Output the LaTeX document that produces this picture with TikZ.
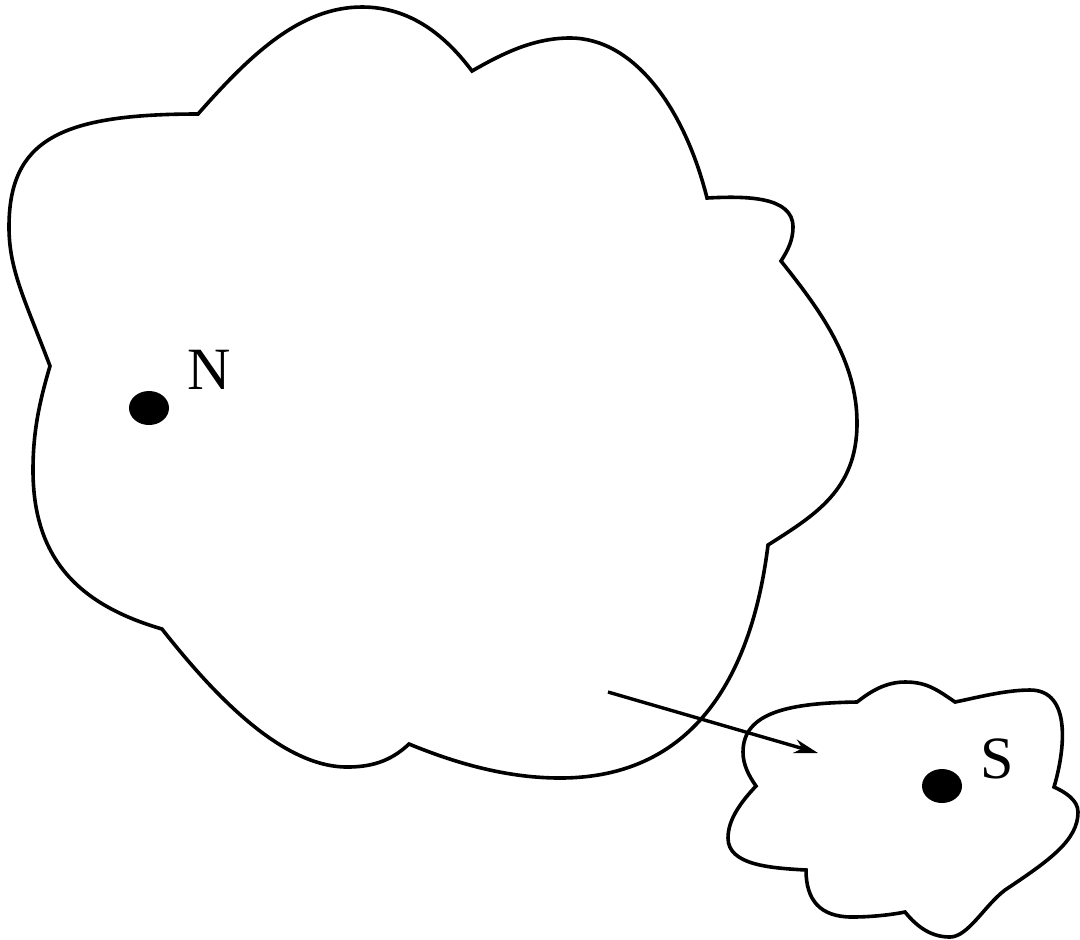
\documentclass[tikz,border=0pt]{standalone}
\usepackage{fontspec}
\setmainfont{Liberation Serif}
\usetikzlibrary{arrows.meta,shapes.geometric}

\begin{document}
\begin{tikzpicture}[
    x=0.5pt, y=-0.5pt,
    blob/.style={
      draw=black,
      line width=1.8pt,
      line join=miter
    },
    dot/.style={
      ellipse,
      fill=black,
      minimum width=20pt,
      minimum height=17pt,
      inner sep=0pt
    },
    tag/.style={
      font=\fontsize{30}{32}\selectfont,
      inner sep=0pt
    },
    arrow/.style={
      -{Stealth[length=12pt,width=7pt]},
      line width=1.7pt
    }
  ]

  \useasboundingbox (0,0) rectangle (1080,939);

  % large region
  \draw[blob] (198,114) .. controls (250,55) and (300,7) .. (362,7)
    .. controls (410,7) and (445,35) .. (472,71)
    .. controls (505,52) and (535,38) .. (570,38)
    .. controls (635,38) and (685,110) .. (707,198)
    .. controls (745,196) and (793,196) .. (793,227)
    .. controls (793,240) and (788,250) .. (781,261)
    .. controls (820,310) and (857,360) .. (857,423)
    .. controls (857,490) and (815,515) .. (768,545)
    .. controls (755,650) and (710,778) .. (560,778)
    .. controls (510,778) and (460,765) .. (409,744)
    .. controls (390,762) and (370,767) .. (347,767)
    .. controls (280,767) and (210,690) .. (162,629)
    .. controls (80,605) and (33,560) .. (33,470)
    .. controls (33,430) and (40,400) .. (50,366)
    .. controls (25,300) and (9,270) .. (9,227)
    .. controls (9,140) and (60,114) .. (198,114) -- cycle;

  % small region
  \draw[blob] (857,702) .. controls (790,703) and (743,712) .. (743,752)
    .. controls (743,765) and (749,776) .. (756,786)
    .. controls (740,803) and (728,820) .. (728,838)
    .. controls (728,865) and (770,868) .. (806,870)
    .. controls (806,900) and (820,917) .. (852,917)
    .. controls (870,917) and (890,915) .. (905,912)
    .. controls (918,928) and (932,937) .. (950,937)
    .. controls (968,937) and (985,905) .. (1005,890)
    .. controls (1050,860) and (1078,840) .. (1078,812)
    .. controls (1078,800) and (1065,792) .. (1054,787)
    .. controls (1065,750) and (1072,690) .. (1030,690)
    .. controls (1005,690) and (975,698) .. (955,702)
    .. controls (935,688) and (925,682) .. (905,682)
    .. controls (885,682) and (870,692) .. (857,702) -- cycle;

  \node[dot] (ndot) at (149,408) {};
  \node[tag] (nlabel) at (209,370) {N};
  \node[dot] (sdot) at (942,786) {};
  \node[tag] (slabel) at (997,759) {S};

  \coordinate (from) at (608,692);
  \coordinate (to)   at (818,753);
  \draw[arrow] (from) -- (to);

\end{tikzpicture}
\end{document}
